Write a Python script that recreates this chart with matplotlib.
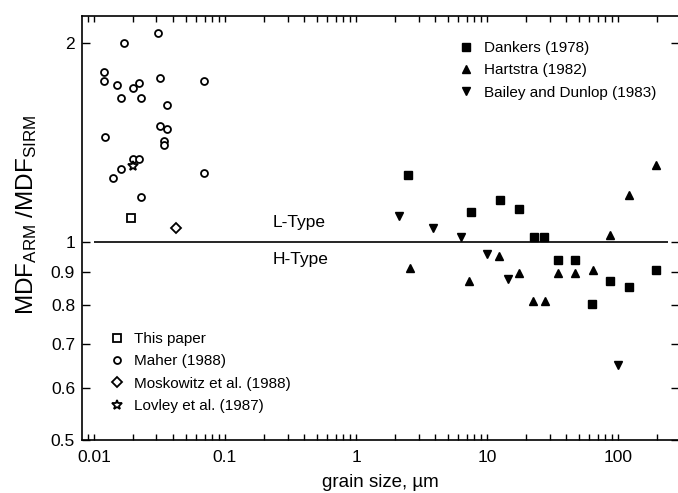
import matplotlib
matplotlib.use('Agg')

import matplotlib.pyplot as plt
from matplotlib.ticker import FixedLocator, NullLocator, FixedFormatter, LogLocator

plt.rcParams['font.family'] = ['Liberation Sans', 'DejaVu Sans']
plt.rcParams['mathtext.default'] = 'regular'

# fine particles (grain size in um, MDF ratio)
this_paper_x = [0.019]
this_paper_y = [1.086]

maher_x = [0.012, 0.012, 0.0121, 0.017, 0.015, 0.016, 0.020, 0.022, 0.023, 0.031, 0.032, 0.036,
           0.032, 0.036, 0.0344, 0.0344, 0.069, 0.069, 0.020, 0.022, 0.016, 0.014, 0.023]
maher_y = [1.81, 1.75, 1.44, 2.0, 1.73, 1.65, 1.71, 1.74, 1.65, 2.07, 1.77, 1.61,
           1.50, 1.48, 1.42, 1.40, 1.75, 1.27, 1.334, 1.335, 1.29, 1.25, 1.17]

moskowitz_x = [0.0425]
moskowitz_y = [1.047]

lovley_x = [0.020]
lovley_y = [1.303]

# coarse particles
dankers_x = [2.49, 7.55, 12.6, 17.5, 22.7, 27.4, 34.7, 46.9, 194, 86.4, 122, 63.7]
dankers_y = [1.262, 1.111, 1.155, 1.119, 1.016, 1.015, 0.937, 0.939, 0.907, 0.871, 0.853, 0.805]

hartstra_x = [2.57, 7.25, 12.4, 17.5, 22.6, 27.7, 35.0, 46.7, 64.2, 87, 122, 194]
hartstra_y = [0.913, 0.873, 0.952, 0.895, 0.814, 0.814, 0.895, 0.895, 0.905, 1.025, 1.175, 1.308]

bailey_x = [2.14, 3.89, 6.3, 9.95, 14.5, 99.5]
bailey_y = [1.094, 1.047, 1.016, 0.957, 0.879, 0.649]

yticks = [0.5, 0.6, 0.7, 0.8, 0.9, 1, 2]
ytick_labels = ['0.5', '0.6', '0.7', '0.8', '0.9', '1', '2']
xticks = [0.01, 0.1, 1, 10, 100]
xtick_labels = ['0.01', '0.1', '1', '10', '100']

boundary = 1.0
boundary_span = (0.01, 240)

fig = plt.figure(figsize=(6.78, 4.93), dpi=100)
ax = fig.add_axes([82 / 678, 53 / 493, 597 / 678, 424 / 493])
ax.set_xscale('log')
ax.set_yscale('log')
ax.set_xlim(0.0081, 292)
ax.set_ylim(0.5, 2.2)

ax.hlines(boundary, *boundary_span, color='black', lw=1.2)

ow = dict(linestyle='none', mfc='white', mec='black', mew=1.3, color='black')
h_tp, = ax.plot(this_paper_x, this_paper_y, marker='s', ms=5.2, **ow)
h_ma, = ax.plot(maher_x, maher_y, marker='o', ms=5, **ow)
h_mo, = ax.plot(moskowitz_x, moskowitz_y, marker='D', ms=4.6, **ow)
h_lo, = ax.plot(lovley_x, lovley_y, marker='*', ms=7, **ow)

fill = dict(linestyle='none', color='black', mec='black')
h_da, = ax.plot(dankers_x, dankers_y, marker='s', ms=5.8, **fill)
h_ha, = ax.plot(hartstra_x, hartstra_y, marker='^', ms=6.3, **fill)
h_ba, = ax.plot(bailey_x, bailey_y, marker='v', ms=6.3, **fill)

ax.text(0.23, 1.068, 'L-Type', fontsize=12.5, va='center', ha='left')
ax.text(0.23, 0.939, 'H-Type', fontsize=12.5, va='center', ha='left')

leg_kw = dict(loc='upper left', frameon=False, fontsize=11, borderpad=0, borderaxespad=0,
              handlelength=0.8, handletextpad=0.75, labelspacing=0.55, numpoints=1)
leg1 = ax.legend([h_da, h_ha, h_ba], ['Dankers (1978)', 'Hartstra (1982)', 'Bailey and Dunlop (1983)'],
                 bbox_to_anchor=(0.633, 0.941), **leg_kw)
ax.add_artist(leg1)
ax.legend([h_tp, h_ma, h_mo, h_lo],
          ['This paper', 'Maher (1988)', 'Moskowitz et al. (1988)', 'Lovley et al. (1987)'],
          bbox_to_anchor=(0.048, 0.255), **leg_kw)

ax.yaxis.set_major_locator(FixedLocator(yticks))
ax.yaxis.set_major_formatter(FixedFormatter(ytick_labels))
ax.yaxis.set_minor_locator(NullLocator())
ax.xaxis.set_major_locator(FixedLocator(xticks))
ax.xaxis.set_major_formatter(FixedFormatter(xtick_labels))
ax.xaxis.set_minor_locator(LogLocator(base=10, subs=range(2, 10), numticks=20))

ax.tick_params(axis='both', which='both', direction='in', top=True, right=True,
               labelsize=12.5, width=1)
ax.tick_params(axis='x', which='both', length=4, pad=7)
ax.tick_params(axis='y', which='major', length=5.5, pad=5)

for s in ax.spines.values():
    s.set_linewidth(1.2)

ax.set_xlabel('grain size, µm', fontsize=13.5, labelpad=7)
ax.set_ylabel('MDF$_{ARM}$ /MDF$_{SIRM}$', fontsize=17.5)
ax.yaxis.set_label_coords(-0.072, 0.53)

fig.savefig('out.png', dpi=100)
plt.close(fig)
